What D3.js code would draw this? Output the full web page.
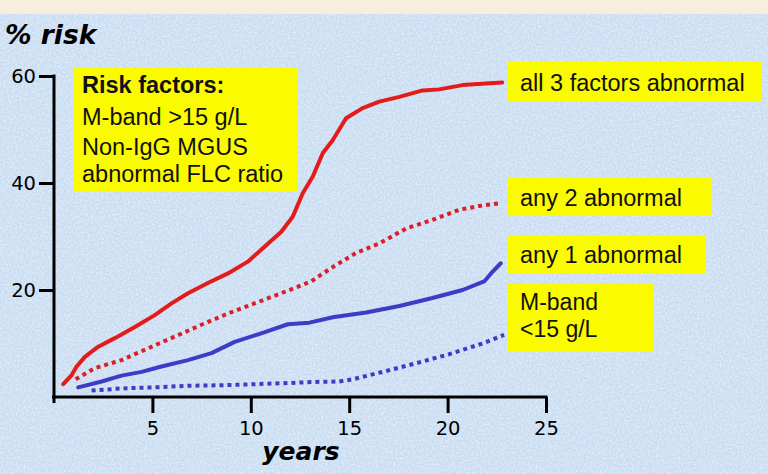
<!DOCTYPE html>
<html>
<head>
<meta charset="utf-8">
<script src="https://cdn.jsdelivr.net/npm/d3@7"></script>
<style>
  html, body { margin: 0; padding: 0; background: #cfe0f3; }
  svg { display: block; }
</style>
</head>
<body>
<svg id="chart" width="768" height="474"></svg>
<script>
// ---- data ----
const xTicks = [5, 10, 15, 20, 25];
const yTicks = [20, 40, 60];

// [years, % risk]
const all3Abnormal = [
  [0.47, 2.4], [0.90, 4.1], [1.15, 5.7], [1.57, 7.5], [2.25, 9.4], [3.09, 11.0],
  [4.11, 13.1], [5.12, 15.3], [5.97, 17.5], [6.81, 19.4], [7.82, 21.3], [8.84, 23.1],
  [9.85, 25.3], [10.70, 28.1], [11.55, 30.9], [12.13, 33.7], [12.64, 38.1], [13.15, 41.2],
  [13.66, 45.6], [14.16, 48.0], [14.84, 52.1], [15.68, 54.0], [16.53, 55.2], [17.55, 56.1],
  [18.73, 57.3], [19.57, 57.5], [20.76, 58.3], [21.94, 58.6], [22.78, 58.8]
];
const any2Abnormal = [
  [1.10, 3.3], [2.08, 5.4], [3.43, 6.9], [4.78, 9.1], [6.14, 11.3], [7.49, 13.5],
  [8.84, 15.6], [10.19, 17.5], [11.55, 19.4], [13.07, 21.6], [14.08, 24.1], [15.34, 26.9],
  [16.53, 28.7], [17.89, 31.5], [19.23, 33.1], [20.59, 35.0], [21.60, 35.7], [22.62, 36.2]
];
const any1Abnormal = [
  [1.23, 1.8], [2.42, 2.9], [3.43, 4.0], [4.45, 4.7], [5.46, 5.7], [6.81, 6.9],
  [8.00, 8.2], [9.18, 10.3], [10.53, 11.9], [11.88, 13.6], [12.98, 13.9], [14.16, 14.9],
  [15.86, 15.8], [17.55, 17.0], [19.23, 18.5], [20.76, 20.0], [21.86, 21.6], [22.28, 23.4],
  [22.70, 25.0]
];
const mBandLow = [
  [1.91, 1.2], [3.43, 1.6], [5.12, 1.8], [6.81, 2.1], [8.50, 2.2], [10.19, 2.4],
  [11.88, 2.6], [13.07, 2.8], [14.50, 2.9], [15.18, 3.3], [16.70, 4.7], [18.39, 6.3],
  [20.08, 8.0], [21.77, 10.0], [22.87, 11.6]
];

const seriesNames = ["all 3 factors abnormal", "any 2 abnormal", "any 1 abnormal", ["M-band", "<15 g/L"]];
const riskFactorLines = ["Risk factors:", "M-band >15 g/L", "Non-IgG MGUS", "abnormal FLC ratio"];

// ---- drawing ----
const svg = d3.select("#chart");
const W = 768, H = 474;

// background with subtle texture
const defs = svg.append("defs");
const f = defs.append("filter").attr("id", "noise").attr("x", 0).attr("y", 0).attr("width", "100%").attr("height", "100%");
f.append("feTurbulence").attr("type", "fractalNoise").attr("baseFrequency", 0.5).attr("numOctaves", 2).attr("seed", 3).attr("result", "t");
f.append("feColorMatrix").attr("in", "t").attr("type", "matrix")
  .attr("values", "0 0 0 0 1  0 0 0 0 1  0 0 0 0 1  0 0 0 -1.8 1.15");

svg.append("rect").attr("width", W).attr("height", H).attr("fill", "#c9ddf2");
svg.append("rect").attr("width", W).attr("height", H).attr("filter", "url(#noise)").attr("opacity", 0.55);
svg.append("rect").attr("width", W).attr("height", 14).attr("fill", "#f6efdd");

const x = d3.scaleLinear().domain([0, 25]).range([54, 546]);
const y = d3.scaleLinear().domain([0, 60]).range([397, 76]);

const tickFont = "DejaVu Sans, Verdana, sans-serif";

// y axis
const yAxis = svg.append("g").attr("transform", `translate(${x(0)},0)`)
  .call(d3.axisLeft(y).tickValues(yTicks).tickSize(15).tickSizeOuter(0).tickPadding(3));
yAxis.select(".domain").remove();
yAxis.selectAll(".tick line").attr("stroke", "#000").attr("stroke-width", 3);
yAxis.selectAll(".tick text").attr("font-family", tickFont)
  .attr("font-size", 19.5).attr("fill", "#000");
svg.append("line").attr("x1", x(0)).attr("x2", x(0)).attr("y1", y(60) - 1.5).attr("y2", y(0) + 6)
  .attr("stroke", "#000").attr("stroke-width", 3);

// x axis
const xAxis = svg.append("g").attr("transform", `translate(0,${y(0)})`)
  .call(d3.axisBottom(x).tickValues(xTicks).tickSize(16).tickSizeOuter(0).tickPadding(8));
xAxis.select(".domain").remove();
xAxis.selectAll(".tick line").attr("stroke", "#000").attr("stroke-width", 3);
xAxis.selectAll(".tick text").attr("font-family", tickFont)
  .attr("font-size", 19.5).attr("fill", "#000");
svg.append("line").attr("x1", x(0) - 2).attr("x2", x(25) + 1.5).attr("y1", y(0)).attr("y2", y(0))
  .attr("stroke", "#000").attr("stroke-width", 3);

// axis titles
svg.append("text").attr("x", 5).attr("y", 44).text("% risk")
  .attr("font-family", tickFont).attr("font-weight", "bold")
  .attr("font-style", "italic").attr("font-size", 26.5).attr("fill", "#000");
svg.append("text").attr("x", 301).attr("y", 460).attr("text-anchor", "middle").text("years")
  .attr("font-family", tickFont).attr("font-weight", "bold")
  .attr("font-style", "italic").attr("font-size", 25).attr("fill", "#000");

// lines
const line = d3.line().x(d => x(d[0])).y(d => y(d[1]));
const red = "#e41b1b", blue = "#3c3cc6";
const seriesDefs = [
  { data: mBandLow, color: blue, dash: "4,4" },
  { data: any1Abnormal, color: blue, dash: null },
  { data: any2Abnormal, color: "#dc1f26", dash: "4,4" },
  { data: all3Abnormal, color: red, dash: null }
];
seriesDefs.forEach(s => {
  svg.append("path").datum(s.data).attr("d", line).attr("fill", "none")
    .attr("stroke", s.color).attr("stroke-width", 4)
    .attr("stroke-linejoin", "round")
    .attr("stroke-linecap", s.dash ? "butt" : "round")
    .attr("stroke-dasharray", s.dash);
});

// legend boxes
const legendFont = "Liberation Sans, Arial, sans-serif";
function box(x0, y0, w, h) {
  svg.append("rect").attr("x", x0).attr("y", y0).attr("width", w).attr("height", h).attr("fill", "#fbfb00");
}
function txt(tx, ty, s, bold, size) {
  return svg.append("text").attr("x", tx).attr("y", ty).text(s)
    .attr("font-family", legendFont).attr("font-size", size || 23.5)
    .attr("font-weight", bold ? "bold" : "normal").attr("fill", "#111");
}

box(73, 68, 224, 124);
riskFactorLines.forEach((s, i) => txt(82, [93, 125, 155, 182][i], s, i === 0));

box(508, 62, 254, 39);
txt(520, 91, seriesNames[0]);
box(508, 178, 204, 38);
txt(520, 206, seriesNames[1]);
box(508, 235, 197, 38);
txt(520, 263, seriesNames[2]);
box(508, 283, 146, 69);
txt(520, 310, seriesNames[3][0], false, 23);
txt(520, 337, seriesNames[3][1], false, 23);
</script>
</body>
</html>
